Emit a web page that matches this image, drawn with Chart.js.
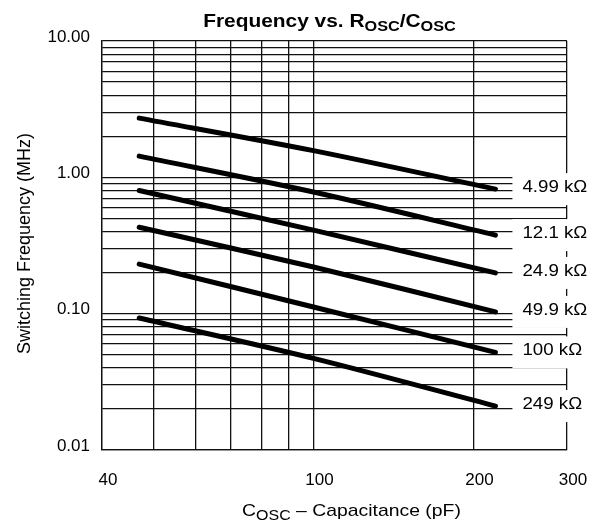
<!DOCTYPE html>
<html>
<head>
<meta charset="utf-8">
<script src="https://cdn.jsdelivr.net/npm/chart.js@4.4.1/dist/chart.umd.min.js"></script>
<style>
  html, body { margin: 0; padding: 0; background: #fff; }
  #wrap { width: 598px; height: 523px; }
</style>
</head>
<body>
<div id="wrap"><canvas id="c" width="598" height="523"></canvas></div>
<script>
// ---- data ----
const capacitance = [47, 100, 220];               // pF
const f_4k99 = [2.72, 1.57, 0.82];                // MHz
const f_12k1 = [1.43, 0.78, 0.377];
const f_24k9 = [0.80, 0.41, 0.199];
const f_49k9 = [0.43, 0.22, 0.103];
const f_100k = [0.231, 0.112, 0.052];
const f_249k = [0.093, 0.047, 0.021];
const seriesLabels = ['4.99 kΩ', '12.1 kΩ', '24.9 kΩ', '49.9 kΩ', '100 kΩ', '249 kΩ'];
const seriesValues = [f_4k99, f_12k1, f_24k9, f_49k9, f_100k, f_249k];
const xGridValues = [40, 50, 60, 70, 80, 90, 100, 200, 300];
const xTickLabels = { 40: '40', 100: '100', 200: '200', 300: '300' };
const yTickLabels = { 0.01: '0.01', 0.1: '0.10', 1: '1.00', 10: '10.00' };

const FONT = '"Liberation Sans", Arial, Helvetica, sans-serif';

function yGridValues() {
  const v = [];
  for (let d = -2; d <= 0; d++) {
    for (let m = 1; m <= 9; m++) v.push(+(m * Math.pow(10, d)).toPrecision(3));
  }
  v.push(10);
  return v;
}

// draws text runs (with subscripts) centred at cx, horizontally stretched by sx
function drawRich(ctx, parts, cx, baseline, sx) {
  let total = 0;
  parts.forEach(p => { ctx.font = p.font; p.w = ctx.measureText(p.t).width; total += p.w; });
  ctx.save();
  ctx.translate(cx, baseline);
  ctx.scale(sx, 1);
  let x = -total / 2;
  ctx.textBaseline = 'alphabetic';
  ctx.textAlign = 'left';
  parts.forEach(p => { ctx.font = p.font; ctx.fillText(p.t, x, p.dy || 0); x += p.w; });
  ctx.restore();
}

const overlay = {
  id: 'overlay',
  afterDraw(chart) {
    const ctx = chart.ctx;
    const xs = chart.scales.x, ys = chart.scales.y;
    const area = chart.chartArea;
    ctx.save();
    // series labels with white boxes
    const xEnd = xs.getPixelForValue(capacitance[capacitance.length - 1]);
    seriesValues.forEach((vals, i) => {
      const yv = ys.getPixelForValue(vals[vals.length - 1]);
      ctx.fillStyle = '#fff';
      ctx.fillRect(xEnd + 17, yv - 16, chart.width - xEnd - 17, 32);
      ctx.fillStyle = '#000';
      ctx.save();
      ctx.translate(xEnd + 27, yv - 2);
      ctx.scale(1.1, 1);
      ctx.font = '17px ' + FONT;
      ctx.textAlign = 'left';
      ctx.textBaseline = 'middle';
      ctx.fillText(seriesLabels[i], 0, 0);
      ctx.restore();
    });
    // title
    ctx.fillStyle = '#000';
    const B = 'bold 18px ' + FONT, Bs = 'bold 14px ' + FONT;
    drawRich(ctx, [
      { t: 'Frequency vs. R', font: B },
      { t: 'OSC', font: Bs, dy: 4 },
      { t: '/C', font: B },
      { t: 'OSC', font: Bs, dy: 4 }
    ], (area.left + area.right) / 2 - 5, 27, 1.16);
    // x axis title
    const N = '17px ' + FONT, Ns = '14px ' + FONT;
    drawRich(ctx, [
      { t: 'C', font: N },
      { t: 'OSC', font: Ns, dy: 4 },
      { t: ' – Capacitance (pF)', font: N }
    ], (area.left + area.right) / 2 + 17, 516, 1.14);
    // y axis title
    ctx.save();
    ctx.translate(25, (area.top + area.bottom) / 2 - 2);
    ctx.rotate(-Math.PI / 2);
    ctx.font = '18px ' + FONT;
    ctx.textAlign = 'center';
    ctx.textBaseline = 'middle';
    ctx.fillText('Switching Frequency (MHz)', 0, 0);
    ctx.restore();
    ctx.restore();
  }
};

const datasets = seriesValues.map((vals, i) => ({
  label: seriesLabels[i],
  data: capacitance.map((c, j) => ({ x: c, y: vals[j] })),
  borderColor: '#000',
  borderWidth: 5,
  borderCapStyle: 'round',
  pointRadius: 0,
  tension: 0.3,
  fill: false
}));

new Chart(document.getElementById('c'), {
  type: 'line',
  data: { datasets },
  options: {
    responsive: false,
    animation: false,
    devicePixelRatio: 1,
    layout: { padding: { left: 0, right: 31, top: 41, bottom: 0 } },
    plugins: { legend: { display: false }, title: { display: false }, tooltip: { enabled: false } },
    scales: {
      x: {
        type: 'logarithmic',
        min: 40, max: 300,
        afterBuildTicks: s => { s.ticks = xGridValues.map(v => ({ value: v })); },
        afterFit: s => { s.height = 73; s.paddingLeft = 0; s.paddingRight = 0; },
        ticks: {
          autoSkip: false, maxRotation: 0,
          font: { family: FONT, size: 17 }, color: '#000',
          padding: 20, labelOffset: 6,
          callback: v => xTickLabels[v] || ''
        },
        grid: { color: '#111', lineWidth: 1.3, drawTicks: false },
        border: { color: '#111', width: 1.3 }
      },
      y: {
        type: 'logarithmic',
        min: 0.01, max: 10,
        afterBuildTicks: s => { s.ticks = yGridValues().map(v => ({ value: v })); },
        afterFit: s => { s.width = 102; s.paddingTop = 0; s.paddingBottom = 0; },
        ticks: {
          autoSkip: false,
          font: { family: FONT, size: 17 }, color: '#000',
          padding: 12, labelOffset: -4,
          callback: v => yTickLabels[v] || ''
        },
        grid: { color: '#111', lineWidth: 1.3, drawTicks: false },
        border: { color: '#111', width: 1.3 }
      }
    }
  },
  plugins: [overlay]
});
</script>
</body>
</html>
